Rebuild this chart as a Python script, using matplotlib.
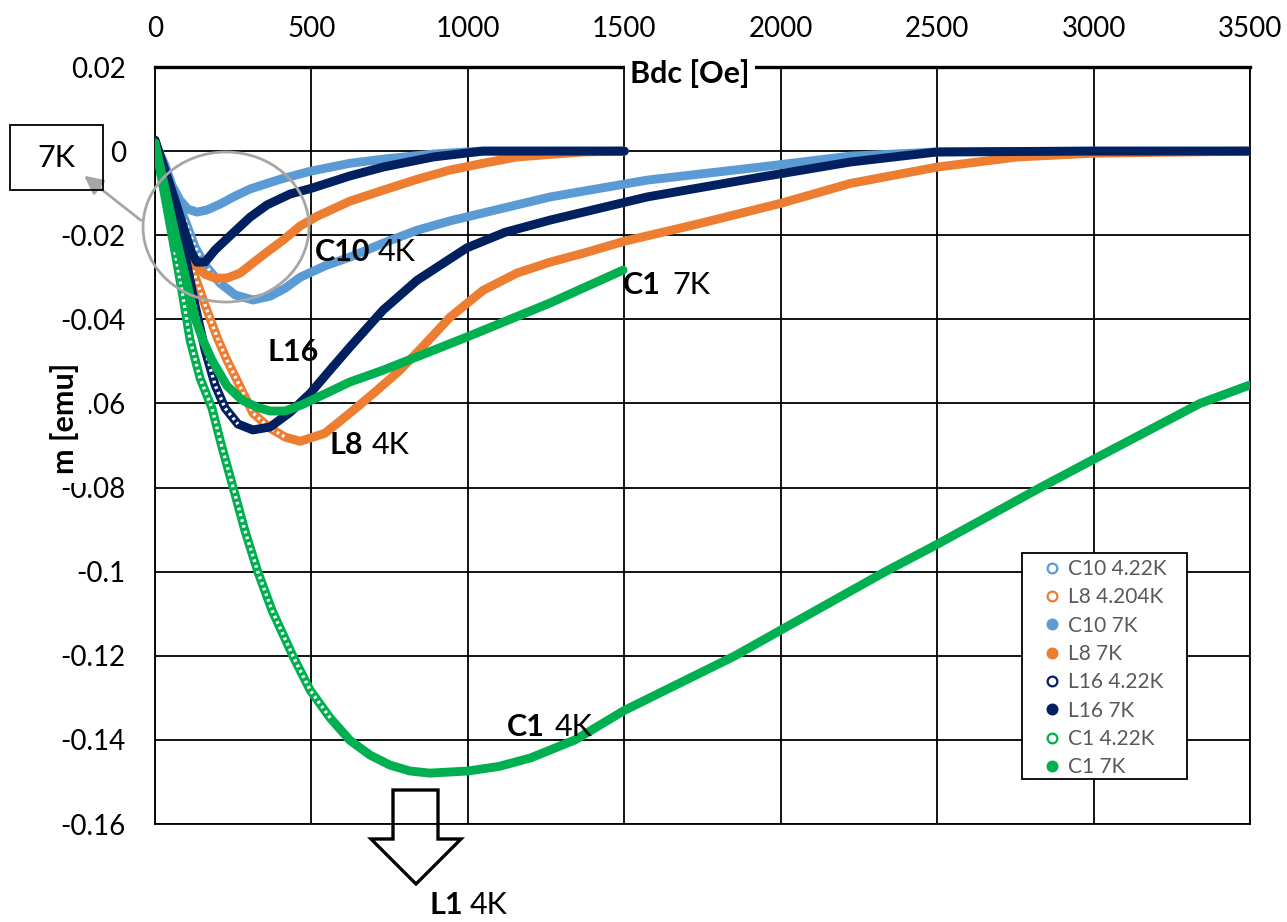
import numpy as np
import matplotlib
matplotlib.use('Agg')
import matplotlib.pyplot as plt
from matplotlib.lines import Line2D
from matplotlib.patches import Ellipse, Polygon, Rectangle

# --- дані: Bdc [Oe] / m [emu] ---
c10_4k_b = [0, 32, 64, 96, 128, 160, 208, 256, 313, 368, 416, 464, 543, 623, 729, 838, 943, 1049, 1263, 1573,
            1934, 2222, 2500, 3000, 3500]
c10_4k_m = [0.0019, -0.0045, -0.0105, -0.0164, -0.0228, -0.0271, -0.0314, -0.0342, -0.0354, -0.0345, -0.0326,
            -0.0300, -0.0273, -0.0252, -0.0219, -0.0188, -0.0166, -0.0147, -0.0109, -0.0069, -0.0038, -0.0012,
            -0.0002, 0.0, 0.0]

l8_4k_b = [0, 32, 64, 96, 121, 160, 198, 230, 262, 313, 368, 416, 464, 543, 623, 703, 783, 863, 943, 1049, 1157,
           1263, 1368, 1502, 1742, 2001, 2222, 2500, 2756, 3000, 3500]
l8_4k_m = [0.0019, -0.0064, -0.0140, -0.0212, -0.0283, -0.0366, -0.0442, -0.0497, -0.0545, -0.0623, -0.0659,
           -0.0680, -0.0690, -0.0671, -0.0623, -0.0573, -0.0521, -0.0459, -0.0395, -0.0331, -0.0290, -0.0264,
           -0.0243, -0.0214, -0.0172, -0.0124, -0.0077, -0.0038, -0.0014, -0.0005, 0.0]

c10_7k_b = [0, 32, 54, 80, 105, 134, 166, 208, 256, 304, 400, 496, 623, 730, 889, 1039, 1250, 1500]
c10_7k_m = [0.0019, -0.0033, -0.0081, -0.0117, -0.0138, -0.0145, -0.0140, -0.0126, -0.0107, -0.0090, -0.0067,
            -0.0048, -0.0029, -0.0019, -0.0007, 0.0, 0.0, 0.0]

l8_7k_b = [0, 32, 64, 96, 121, 160, 192, 230, 272, 313, 358, 409, 464, 518, 623, 729, 838, 943, 1049, 1157, 1368,
           1500]
l8_7k_m = [0.0019, -0.0064, -0.0140, -0.0212, -0.0264, -0.0293, -0.0302, -0.0302, -0.0290, -0.0266, -0.0240,
           -0.0212, -0.0178, -0.0155, -0.0119, -0.0093, -0.0067, -0.0045, -0.0029, -0.0014, -0.0002, 0.0]

l16_4k_b = [0, 32, 64, 96, 128, 160, 192, 224, 265, 313, 368, 432, 496, 559, 623, 729, 838, 997, 1119, 1263, 1573,
            1934, 2222, 2500, 3000, 3500]
l16_4k_m = [0.0026, -0.0057, -0.0140, -0.0247, -0.0366, -0.0473, -0.0556, -0.0611, -0.0649, -0.0663, -0.0656,
            -0.0621, -0.0576, -0.0521, -0.0466, -0.0378, -0.0307, -0.0230, -0.0193, -0.0164, -0.0109, -0.0062,
            -0.0026, -0.0002, 0.0, 0.0]

l16_7k_b = [0, 32, 64, 96, 118, 134, 160, 192, 249, 304, 358, 432, 502, 623, 729, 889, 1049, 1250, 1500]
l16_7k_m = [0.0026, -0.0045, -0.0117, -0.0193, -0.0243, -0.0264, -0.0264, -0.0235, -0.0195, -0.0157, -0.0128,
            -0.0102, -0.0088, -0.0059, -0.0038, -0.0014, 0.0, 0.0, 0.0]

c1_4k_b = [0, 32, 64, 90, 112, 144, 182, 214, 252, 288, 329, 374, 441, 496, 560, 623, 687, 751, 815, 879, 1000,
           1100, 1200, 1343, 1500, 1854, 2000, 2334, 2500, 2830, 3000, 3340, 3500]
c1_4k_m = [0.0019, -0.0109, -0.0240, -0.0350, -0.0449, -0.0540, -0.0611, -0.0704, -0.0806, -0.0904, -0.1001,
           -0.1092, -0.1201, -0.1282, -0.1348, -0.1401, -0.1436, -0.1460, -0.1474, -0.1479, -0.1474, -0.1463,
           -0.1443, -0.1400, -0.1330, -0.1200, -0.1139, -0.1000, -0.0935, -0.0800, -0.0733, -0.0600, -0.0556]

c1_7k_b = [0, 32, 64, 96, 128, 153, 182, 230, 278, 326, 368, 416, 473, 623, 729, 997, 1263, 1496]
c1_7k_m = [0.0019, -0.0088, -0.0195, -0.0295, -0.0397, -0.0449, -0.0497, -0.0558, -0.0592, -0.0609, -0.0618,
           -0.0618, -0.0602, -0.0549, -0.0521, -0.0442, -0.0361, -0.0283]

x_ticks = [0, 500, 1000, 1500, 2000, 2500, 3000, 3500]
y_ticks = [-0.16, -0.14, -0.12, -0.1, -0.08, -0.06, -0.04, -0.02, 0, 0.02]
y_tick_labels = ['-0.16', '-0.14', '-0.12', '-0.1', '-0.08', '-0.06', '-0.04', '-0.02', '0', '0.02']

LIGHT_BLUE = '#5B9BD5'
ORANGE = '#ED7D31'
NAVY = '#002060'
GREEN = '#00B050'

# (підпис, B, m, колір, порожні маркери, ділянка з видимими кільцями)
series = [
    ('C10 4.22K', c10_4k_b, c10_4k_m, LIGHT_BLUE, True, (80, 210)),
    ('L8 4.204K', l8_4k_b, l8_4k_m, ORANGE, True, (110, 420)),
    ('C10 7K', c10_7k_b, c10_7k_m, LIGHT_BLUE, False, None),
    ('L8 7K', l8_7k_b, l8_7k_m, ORANGE, False, None),
    ('L16 4.22K', l16_4k_b, l16_4k_m, NAVY, True, (110, 300)),
    ('L16 7K', l16_7k_b, l16_7k_m, NAVY, False, None),
    ('C1 4.22K', c1_4k_b, c1_4k_m, GREEN, True, (60, 620)),
    ('C1 7K', c1_7k_b, c1_7k_m, GREEN, False, None),
]

plt.rcParams['font.family'] = ['Lato', 'DejaVu Sans']

W, H = 1287, 922


def fx(px):
    return px / W


def fy(py):
    return 1 - py / H


fig = plt.figure(figsize=(W / 100, H / 100), dpi=100)
ax = fig.add_axes([fx(155), fy(824), (1250 - 155) / W, (824 - 67) / H])

for i, (name, b, m, color, hollow, ring) in enumerate(series):
    b = np.array(b)
    m = np.array(m)
    ax.plot(b, m, color=color, lw=6.4, solid_capstyle='round', solid_joinstyle='round', zorder=2 + i)
    if hollow:
        # білий пунктир усередині — імітація ланцюжка порожніх кілець
        sel = (b >= ring[0]) & (b <= ring[1])
        ax.plot(b[sel], m[sel], color='white', lw=2.4, ls=(0, (0.8, 1.0)), zorder=2 + i + 0.5)

ax.set_xlim(0, 3500)
ax.set_ylim(-0.16, 0.02)
ax.set_xticks(x_ticks)
ax.set_xticklabels([str(v) for v in x_ticks])
ax.set_yticks(y_ticks)
ax.set_yticklabels(y_tick_labels)
ax.xaxis.tick_top()
ax.tick_params(axis='x', length=0, labelsize=20, pad=18)
ax.tick_params(axis='y', length=0, labelsize=20, pad=21)
ax.grid(True, color='black', lw=1.3)
ax.set_axisbelow(True)
for s in ax.spines.values():
    s.set_color('black')
    s.set_linewidth(1.3)
ax.spines['top'].set_linewidth(2.4)

# підписи осей з білим фоном (частково закривають мітки, як в оригіналі)
fig.text(fx(65), fy(418), 'm [emu]', rotation=90, weight='bold', size=22, ha='center', va='center',
         bbox=dict(fc='white', ec='none', pad=7), zorder=10)
fig.text(fx(690), fy(74), 'Bdc [Oe]', weight='bold', size=22, ha='center', va='center',
         bbox=dict(fc='white', ec='none', pad=4), zorder=10)

# легенда (рамка окремо, щоб збігалися відступи)
ax.add_patch(Rectangle((fx(1022), fy(779)), 165 / W, 226 / H, transform=fig.transFigure,
                       fc='white', ec='black', lw=1.3, zorder=15, clip_on=False))
handles = [Line2D([], [], ls='none', marker='o', ms=7, mew=1.6, mec=c,
                  mfc='white' if hollow else c) for _, _, _, c, hollow, _ in series]
leg = ax.legend(handles, [s[0] for s in series], loc='upper left', bbox_to_anchor=(fx(1042), fy(559)),
                bbox_transform=fig.transFigure, fontsize=15, labelcolor='#595959', frameon=False,
                handlelength=1.0, handletextpad=0.25, labelspacing=0.4, borderpad=0, borderaxespad=0)
leg.set_zorder(20)

# підписи кривих: (жирна частина, звичайна, x жирної, x звичайної, y)
notes = [
    ('C10', '4K', 315, 378, 252),
    ('C1', '7K', 623, 672, 285),
    ('L16', '', 268, 0, 352),
    ('L8', '4K', 330, 372, 445),
    ('C1', '4K', 507, 555, 727),
    ('L1', '4K', 430, 470, 905),
]
for bold, normal, xb, xn, y in notes:
    fig.text(fx(xb), fy(y), bold, weight='bold', size=22, ha='left', va='center', zorder=10)
    if normal:
        fig.text(fx(xn), fy(y), normal, size=22, ha='left', va='center', zorder=10)

# рамка "7K" зі стрілкою на коло
fig.add_artist(Rectangle((fx(10), fy(190)), 93 / W, 65 / H, transform=fig.transFigure,
                         fill=False, ec='black', lw=1.3, zorder=4))
fig.text(fx(56), fy(158), '7K', size=22, ha='center', va='center', zorder=11)
fig.add_artist(Ellipse((fx(226), fy(227)), 166 / W, 150 / H, transform=fig.transFigure,
                       fill=False, ec='#A6A6A6', lw=2, zorder=5))
ax.annotate('', xy=(fx(82), fy(174)), xycoords='figure fraction', xytext=(fx(143), fy(222)),
            textcoords='figure fraction',
            arrowprops=dict(arrowstyle='-|>', color='#A6A6A6', lw=2, mutation_scale=28))

# стрілка вниз до L1
arrow_px = [(393, 790), (438, 790), (438, 839), (461, 839), (416, 884), (371, 839), (393, 839)]
fig.add_artist(Polygon([(fx(x), fy(y)) for x, y in arrow_px], closed=True, transform=fig.transFigure,
                       fill=False, ec='black', lw=2.4, joinstyle='miter', zorder=6))

fig.savefig('out.png', dpi=100)
